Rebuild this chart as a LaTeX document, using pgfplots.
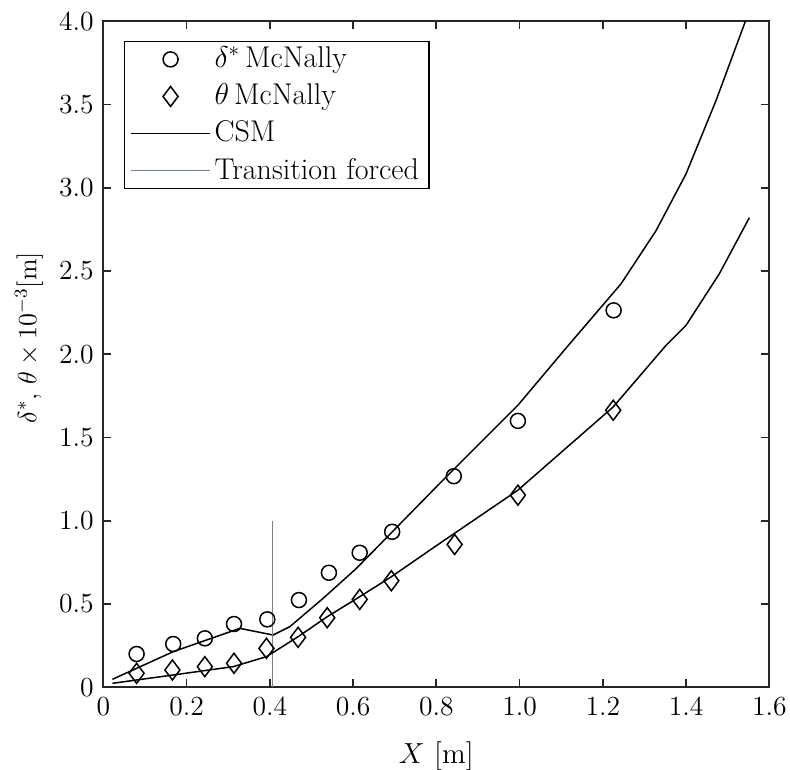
\RequirePackage{fix-cm}
\documentclass[border=0pt]{standalone}
\usepackage{pgfplots}
\pgfplotsset{compat=1.18}
\definecolor{axgray}{rgb}{0.15,0.15,0.15}
\definecolor{transcol}{rgb}{0.45,0.51,0.59}
\pgfplotsset{
  markleg/.style={legend image code/.code={\path[draw=none] (0cm,0cm) -- (1.38cm,0cm);\draw[##1] plot coordinates {(0.69cm,0cm)};}},
  lineleg/.style={legend image code/.code={\draw[##1] (0cm,0cm) -- (1.38cm,0cm);}},
}
\begin{document}
\fontsize{14}{17}\selectfont
\begin{tikzpicture}
\useasboundingbox (-51.65pt,-40.85pt) rectangle (343.35pt,343.65pt);
\begin{axis}[
  at={(0pt,0pt)}, anchor=south west,
  scale only axis,
  width=333pt, height=333pt,
  xmin=0, xmax=1.6, ymin=0, ymax=4.0,
  xtick={0,0.2,...,1.6},
  xticklabels={0,0.2,0.4,0.6,0.8,1.0,1.2,1.4,1.6},
  ytick={0,0.5,...,4.0},
  yticklabels={0,0.5,1.0,1.5,2.0,2.5,3.0,3.5,4.0},
  tick align=inside,
  major tick length=4pt,
  axis line style={axgray, line width=0.9pt},
  tick style={axgray, line width=0.9pt},
  ticklabel style={font=\fontsize{13.8}{16}\selectfont},
  xlabel style={font=\fontsize{14.5}{17}\selectfont, at={(axis description cs:0.5,-0.1137)}, anchor=base},
  ylabel style={font=\fontsize{13.2}{16}\selectfont, at={(axis description cs:-0.1115,0.525)}, anchor=center},
  xlabel={$X$ [m]},
  ylabel={$\delta^*$, $\theta\times10^{-3}$[m]},
  clip=true,
  legend style={at={(0.031,0.97)}, anchor=north west, draw=black, line width=0.6pt,
    font=\fontsize{15}{18}\selectfont, row sep=2pt, inner xsep=3pt, inner ysep=0.5pt},
  legend cell align=left,
]
\addplot[only marks, mark=o, mark size=3.75pt, line width=0.75pt, markleg]
coordinates {(0.080,0.200) (0.168,0.260) (0.244,0.294) (0.314,0.380) (0.394,0.408) (0.470,0.524) (0.542,0.688) (0.616,0.808) (0.694,0.934) (0.842,1.268) (0.996,1.600) (1.226,2.264)};
\addlegendentry{$\delta^*$\,McNally}
\addplot[only marks, mark=diamond, mark size=5pt, line width=0.75pt, markleg]
coordinates {(0.080,0.084) (0.166,0.104) (0.244,0.124) (0.314,0.144) (0.392,0.234) (0.468,0.300) (0.538,0.418) (0.616,0.528) (0.692,0.640) (0.844,0.858) (0.996,1.154) (1.225,1.664)};
\addlegendentry{$\theta$\,McNally}
\addplot[black, line width=0.75pt, no markers, lineleg]
coordinates {(0.022,0.048) (0.168,0.214) (0.328,0.354) (0.408,0.314) (0.448,0.364) (0.528,0.534) (0.608,0.714) (0.692,0.928) (0.808,1.224) (0.996,1.694) (1.116,2.050) (1.244,2.424) (1.328,2.743) (1.400,3.084) (1.472,3.524) (1.541,3.990) (1.556,4.100)};
\addlegendentry{CSM}
\addplot[transcol, line width=0.75pt, no markers, lineleg]
coordinates {(0.4065,0) (0.4065,1.0)};
\addlegendentry{Transition forced}
\addplot[black, line width=0.75pt, no markers, forget plot]
coordinates {(0.022,0.024) (0.168,0.074) (0.312,0.124) (0.392,0.184) (0.468,0.304) (0.538,0.424) (0.616,0.544) (0.692,0.664) (0.808,0.864) (0.996,1.184) (1.225,1.684) (1.352,2.054) (1.400,2.174) (1.480,2.484) (1.552,2.820)};
\end{axis}
\end{tikzpicture}
\end{document}
